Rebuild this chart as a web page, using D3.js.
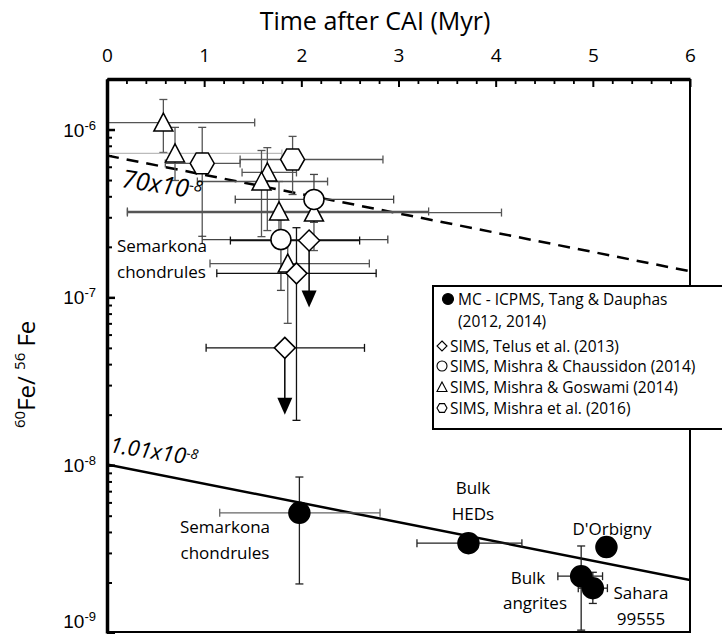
<!DOCTYPE html>
<html>
<head>
<meta charset="utf-8">
<script src="https://cdn.jsdelivr.net/npm/d3@7"></script>
<style>
  body { margin: 0; background: #fff; }
  svg { display: block; }
</style>
</head>
<body>
<div class="container"></div>
<script>
// ticks
const xTicks = [0, 1, 2, 3, 4, 5, 6];
const yTicks = [1e-9, 1e-8, 1e-7, 1e-6];

// MC-ICPMS, Tang & Dauphas (2012, 2014)  (t in Myr after CAI, r = 60Fe/56Fe)
const tangDauphas = [
  { name: "Semarkona", t: 1.98, r: 5.2e-9, tLo: 1.16, tHi: 2.81, rLo: 1.96e-9, rHi: 8.5e-9 },
  { name: "HEDs", t: 3.72, r: 3.43e-9, tLo: 3.19, tHi: 4.27, rLo: null, rHi: null },
  { name: "D'Orbigny", t: 5.14, r: 3.25e-9, tLo: null, tHi: null, rLo: 2.85e-9, rHi: 3.6e-9 },
  { name: "angrites", t: 4.88, r: 2.18e-9, tLo: 4.64, tHi: 5.10, rLo: 1.04e-9, rHi: 3.3e-9 },
  { name: "Sahara 99555", t: 5.00, r: 1.85e-9, tLo: 4.85, tHi: 5.15, rLo: 1.5e-9, rHi: 2.3e-9 }
];

// SIMS, Telus et al. (2013) - limit = arrow tip for upper limits
const telus = [
  { t: 2.08, r: 2.18e-7, tLo: 1.27, tHi: 2.60, rLo: null, rHi: null, limit: 8.7e-8 },
  { t: 1.95, r: 1.39e-7, tLo: 1.13, tHi: 2.77, rLo: 1.85e-8, rHi: 2.6e-7, limit: null },
  { t: 1.83, r: 5.0e-8, tLo: 1.02, tHi: 2.65, rLo: null, rHi: null, limit: 2.0e-8 }
];

// SIMS, Mishra & Chaussidon (2014)
const chaussidon = [
  { t: 2.13, r: 3.83e-7, tLo: 1.32, tHi: 2.95, rLo: 2.8e-7, rHi: 5.4e-7 },
  { t: 1.79, r: 2.21e-7, tLo: 0.98, tHi: 2.89, rLo: 1.10e-7, rHi: 2.9e-7 }
];

// SIMS, Mishra & Goswami (2014)
const goswami = [
  { t: 0.58, r: 1.10e-6, tLo: -0.6, tHi: 1.52, rLo: 7.3e-7, rHi: 1.51e-6 },
  { t: 0.70, r: 7.2e-7, tLo: -0.6, tHi: 1.80, rLo: 4.97e-7, rHi: 1.03e-6 },
  { t: 1.65, r: 5.55e-7, tLo: 1.39, tHi: 1.95, rLo: 2.5e-7, rHi: 7.8e-7 },
  { t: 1.59, r: 4.9e-7, tLo: 0.93, tHi: 2.27, rLo: 2.3e-7, rHi: 7.5e-7 },
  { t: 1.77, r: 3.25e-7, tLo: 0.21, tHi: 3.31, rLo: 2.2e-7, rHi: 4.9e-7 },
  { t: 2.13, r: 3.2e-7, tLo: 0.21, tHi: 4.06, rLo: 1.9e-7, rHi: 4.3e-7 },
  { t: 1.86, r: 1.59e-7, tLo: 1.06, tHi: 2.70, rLo: 7.0e-8, rHi: 2.2e-7 }
];

// SIMS, Mishra et al. (2016)
const mishra2016 = [
  { t: 0.98, r: 6.28e-7, tLo: 0.60, tHi: 1.37, rLo: 2.31e-7, rHi: 1.03e-6 },
  { t: 1.91, r: 6.63e-7, tLo: 1.37, tHi: 2.84, rLo: 4.1e-7, rHi: 9.1e-7 }
];

// initial ratio lines (decay of 60Fe)
const fitSims = [{ t: 0, r: 7.0e-7 }, { t: 6, r: 1.43e-7 }];
const fitBulk = [{ t: 0, r: 1.01e-8 }, { t: 6, r: 2.07e-9 }];

const legendItems = [
  { shape: "dot", lines: ["MC - ICPMS, Tang & Dauphas", "(2012, 2014)"] },
  { shape: "diamond", lines: ["SIMS, Telus et al. (2013)"] },
  { shape: "circle", lines: ["SIMS, Mishra & Chaussidon (2014)"] },
  { shape: "triangle", lines: ["SIMS, Mishra & Goswami (2014)"] },
  { shape: "hexagon", lines: ["SIMS, Mishra et al. (2016)"] }
];

const w = 722, h = 634;
const pLeft = 107, pRight = 690, pTop = 79, pBottom = 633;
const sans = "'Open Sans', 'Noto Sans', sans-serif";
const arial = "'Liberation Sans', Arial, sans-serif";

const x = d3.scaleLinear().domain([0, 6]).range([pLeft, pRight]);
const y = d3.scaleLog().domain([1e-9, 2e-6]).range([pBottom, pTop]);

const svg = d3.select(".container").append("svg")
  .attr("width", w).attr("height", h);

svg.append("defs").append("clipPath").attr("id", "plot")
  .append("rect").attr("x", pLeft).attr("y", pTop)
  .attr("width", pRight - pLeft).attr("height", pBottom - pTop);

// shapes (size = half width)
const shapes = {
  triangle: s => `M0,${-s}L${s},${s * 0.9}L${-s},${s * 0.9}Z`,
  hexagon: s => `M${-s},0L${-s / 2},${-s * 0.87}L${s / 2},${-s * 0.87}L${s},0L${s / 2},${s * 0.87}L${-s / 2},${s * 0.87}Z`,
  diamond: s => `M0,${-s}L${s},0L0,${s}L${-s},0Z`,
  circle: s => d3.arc()({ innerRadius: 0, outerRadius: s, startAngle: 0, endAngle: 2 * Math.PI }),
  dot: s => d3.arc()({ innerRadius: 0, outerRadius: s, startAngle: 0, endAngle: 2 * Math.PI })
};

/* frame: right + bottom */
svg.append("line").attr("x1", pRight).attr("x2", pRight).attr("y1", pTop).attr("y2", pBottom)
  .attr("stroke", "#000").attr("stroke-width", 2);
svg.append("line").attr("x1", pLeft).attr("x2", pRight).attr("y1", pBottom - 1).attr("y2", pBottom - 1)
  .attr("stroke", "#000").attr("stroke-width", 2);

const plot = svg.append("g").attr("clip-path", "url(#plot)");

/* fit lines */
const line = d3.line().x(d => x(d.t)).y(d => y(d.r));
plot.append("path").datum(fitSims).attr("d", line)
  .attr("fill", "none").attr("stroke", "#000").attr("stroke-width", 2.5)
  .attr("stroke-dasharray", "12,8");
plot.append("path").datum(fitBulk).attr("d", line)
  .attr("fill", "none").attr("stroke", "#000").attr("stroke-width", 2.5);

/* error bars */
function errorBars(data, colour, cap, tColour) {
  const g = plot.append("g").attr("stroke-width", 1.3).attr("fill", "none");
  data.forEach((d, i) => {
    const ct = (tColour && tColour[i]) || colour;
    if (d.tLo != null) {
      g.append("line").attr("stroke", ct)
        .attr("x1", x(d.tLo)).attr("x2", x(d.tHi)).attr("y1", y(d.r)).attr("y2", y(d.r));
      [d.tLo, d.tHi].forEach(v => g.append("line").attr("stroke", ct)
        .attr("x1", x(v)).attr("x2", x(v)).attr("y1", y(d.r) - cap).attr("y2", y(d.r) + cap));
    }
    if (d.rLo != null) {
      g.append("line").attr("stroke", colour)
        .attr("x1", x(d.t)).attr("x2", x(d.t)).attr("y1", y(d.rLo)).attr("y2", y(d.rHi));
      [d.rLo, d.rHi].forEach(v => g.append("line").attr("stroke", colour)
        .attr("x1", x(d.t) - cap).attr("x2", x(d.t) + cap).attr("y1", y(v)).attr("y2", y(v)));
    }
  });
  return g;
}
errorBars(goswami, "#555", 4, { 1: "#bbb" });
errorBars(mishra2016, "#555", 4);
errorBars(chaussidon, "#444", 4);
errorBars(telus, "#111", 4);
errorBars(tangDauphas, "#222", 4, { 0: "#666" });

// upper limit arrows (Telus)
telus.filter(d => d.limit).forEach(d => {
  plot.append("line").attr("x1", x(d.t)).attr("x2", x(d.t))
    .attr("y1", y(d.r)).attr("y2", y(d.limit) - 12)
    .attr("stroke", "#000").attr("stroke-width", 1.5);
  plot.append("path")
    .attr("d", `M${x(d.t) - 7.5},${y(d.limit) - 17}L${x(d.t) + 7.5},${y(d.limit) - 17}L${x(d.t)},${y(d.limit)}Z`)
    .attr("fill", "#000");
});

/* markers */
function markers(data, shape, size, fill) {
  plot.append("g").selectAll("path").data(data).join("path")
    .attr("transform", d => `translate(${x(d.t)},${y(d.r)})`)
    .attr("d", shapes[shape](size))
    .attr("fill", fill).attr("stroke", "#000").attr("stroke-width", 1.5);
}
markers(goswami, "triangle", 9.5, "#fff");
markers(mishra2016, "hexagon", 12, "#fff");
markers(chaussidon, "circle", 10, "#fff");
markers(telus, "diamond", 10.5, "#fff");
markers(tangDauphas, "dot", 10.5, "#000");

/* top axis */
const xAxis = d3.axisTop(x).tickValues(xTicks).tickSize(-8).tickSizeOuter(0).tickPadding(17)
  .tickFormat(d3.format("d"));
const gx = svg.append("g").attr("transform", `translate(0,${pTop})`).call(xAxis);
gx.select(".domain").attr("stroke-width", 3.5);
gx.selectAll(".tick line").attr("stroke-width", 2);
gx.selectAll("text").attr("font-family", sans).attr("font-size", 19);
const xMinor = d3.range(0, 30).map(i => i * 0.2).filter(v => Math.abs(v - Math.round(v)) > 0.01);
svg.append("g").attr("transform", `translate(0,${pTop})`)
  .call(d3.axisTop(x).tickValues(xMinor).tickSize(-5).tickFormat(""))
  .call(g => g.select(".domain").remove())
  .selectAll(".tick line").attr("stroke-width", 1.8);

/* left axis */
const gy = svg.append("g").attr("transform", `translate(${pLeft},0)`)
  .call(d3.axisLeft(y).tickValues(yTicks).tickSize(-8).tickSizeOuter(0).tickFormat(""));
gy.select(".domain").attr("stroke-width", 3.5);
gy.selectAll(".tick line").attr("stroke-width", 2.5);
const yMinor = [];
yTicks.forEach(p => d3.range(2, 10).forEach(m => { if (p * m <= 2e-6) yMinor.push(p * m); }));
svg.append("g").attr("transform", `translate(${pLeft},0)`)
  .call(d3.axisLeft(y).tickValues(yMinor).tickSize(-5).tickFormat(""))
  .call(g => g.select(".domain").remove())
  .selectAll(".tick line").attr("stroke-width", 2);

const yl = svg.append("g").attr("font-family", arial).attr("fill", "#000");
yTicks.forEach(v => {
  const t = yl.append("text").attr("x", 96).attr("y", Math.min(y(v) + 7, 628)).attr("text-anchor", "end")
    .attr("font-size", 19);
  t.append("tspan").text("10");
  t.append("tspan").attr("font-size", 13).attr("dy", -7).text(String(Math.round(Math.log10(v))));
});

/* axis titles */
svg.append("text").attr("x", 375).attr("y", 30).attr("text-anchor", "middle")
  .attr("font-family", sans).attr("font-size", 25).text("Time after CAI (Myr)");

const ytitle = svg.append("text").attr("transform", "translate(35,428) rotate(-90)")
  .attr("text-anchor", "start").attr("font-family", sans).attr("font-size", 24);
ytitle.append("tspan").attr("font-size", 15).attr("dy", -10).text("60");
ytitle.append("tspan").attr("dy", 10).text("Fe/ ");
ytitle.append("tspan").attr("font-size", 15).attr("dy", -10).text("56");
ytitle.append("tspan").attr("dy", 10).text(" Fe");

/* line labels */
function slopeLabel(px, py, base, exp, size) {
  const t = svg.append("text").attr("transform", `translate(${px},${py}) rotate(9)`)
    .attr("font-family", sans).attr("font-style", "italic").attr("font-size", size);
  t.append("tspan").text(base);
  t.append("tspan").attr("font-size", size * 0.62).attr("dy", -size * 0.3).text(exp);
}
slopeLabel(121, 187, "70x10", "-8", 25);
slopeLabel(109, 452, "1.01x10", "-8", 22);

/* annotations */
function note(px, py, lines, anchor) {
  const t = svg.append("text").attr("font-family", sans).attr("font-size", 17)
    .attr("text-anchor", anchor || "middle");
  lines.forEach((s, i) => t.append("tspan").attr("x", px).attr("y", py + i * 26).text(s));
}
note(117, 252, ["Semarkona", "chondrules"], "start");
note(225, 533, ["Semarkona", "chondrules"]);
note(473, 494, ["Bulk", "HEDs"]);
note(612, 535, ["D'Orbigny"]);
note(528, 584, ["Bulk"]);
note(535, 609, ["angrites"]);
note(641, 599, ["Sahara", "99555"]);

/* legend */
const lg = svg.append("g");
lg.append("rect").attr("x", 433).attr("y", 286).attr("width", 310).attr("height", 143)
  .attr("fill", "#fff").attr("stroke", "#000").attr("stroke-width", 2);
const rows = [299, 346, 366, 387, 408];
legendItems.forEach((it, i) => {
  const cy = rows[i];
  const cx = it.shape === "dot" ? 448 : 442;
  lg.append("path").attr("transform", `translate(${cx},${cy})`)
    .attr("d", shapes[it.shape](it.shape === "dot" ? 5.5 : 5))
    .attr("fill", it.shape === "dot" ? "#000" : "#fff")
    .attr("stroke", "#000").attr("stroke-width", 1.1);
  it.lines.forEach((s, j) => lg.append("text")
    .attr("x", it.shape === "dot" ? 458 : 450).attr("y", cy + 5.5 + j * 22)
    .attr("font-family", sans).attr("font-size", 15.5).text(s));
});
</script>
</body>
</html>
